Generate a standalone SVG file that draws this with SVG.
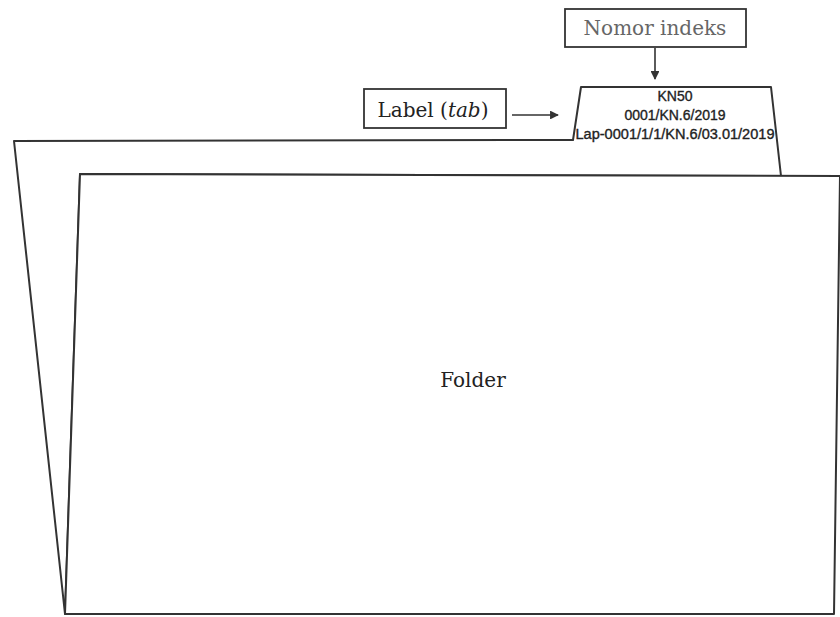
<svg xmlns="http://www.w3.org/2000/svg" width="840" height="617" viewBox="0 0 840 617">
  <defs>
    <marker id="arrow" viewBox="0 0 10 10" refX="9" refY="5" markerWidth="5.5" markerHeight="5.5" orient="auto">
      <path d="M0,0 L10,5 L0,10 z" fill="#333"/>
    </marker>
    <style>
      .sheet { fill: #fff; stroke: #333; stroke-width: 2; stroke-linejoin: round; }
      .box { fill: #fff; stroke: #333; stroke-width: 1.8; }
      .serif { font-family: "DejaVu Serif", "Liberation Serif", serif; font-size: 20px; text-anchor: middle; }
      .tabtxt { font-family: "Liberation Sans", Arial, sans-serif; font-size: 14px; fill: #222; stroke: #222; stroke-width: 0.35; text-anchor: middle; }
      .conn { stroke: #333; stroke-width: 1.6; fill: none; marker-end: url(#arrow); }
    </style>
  </defs>
  <rect width="840" height="617" fill="#fff"/>

  <!-- back sheet of the folder with its label tab -->
  <g id="back-sheet">
    <path class="sheet" d="M14,141 L573,140 L581,87 L771,87 L781,176 L80,174 L65,614 Z"/>
  </g>

  <!-- tab text -->
  <g id="tab-label">
    <text class="tabtxt" x="675" y="101">KN50</text>
    <text class="tabtxt" x="675" y="120">0001/KN.6/2019</text>
    <text class="tabtxt" x="675" y="139" textLength="199" lengthAdjust="spacingAndGlyphs">Lap-0001/1/1/KN.6/03.01/2019</text>
  </g>

  <!-- front sheet -->
  <g id="front-sheet">
    <path class="sheet" d="M80,174 L840,176 L834,614 L65,614 Z"/>
    <text class="serif" x="473" y="387" fill="#222">Folder</text>
  </g>

  <!-- callout boxes -->
  <g id="nomor-indeks">
    <rect class="box" x="565" y="9" width="181" height="38"/>
    <text class="serif" x="655" y="35" fill="#666">Nomor indeks</text>
  </g>
  <g id="label-tab">
    <rect class="box" x="364" y="89" width="142" height="39"/>
    <text class="serif" x="433" y="117" fill="#222">Label (<tspan font-style="italic">tab</tspan>)</text>
  </g>

  <!-- connectors -->
  <g id="connectors">
    <line class="conn" x1="655" y1="48" x2="655" y2="79"/>
    <line class="conn" x1="512" y1="115" x2="558" y2="115"/>
  </g>
</svg>
